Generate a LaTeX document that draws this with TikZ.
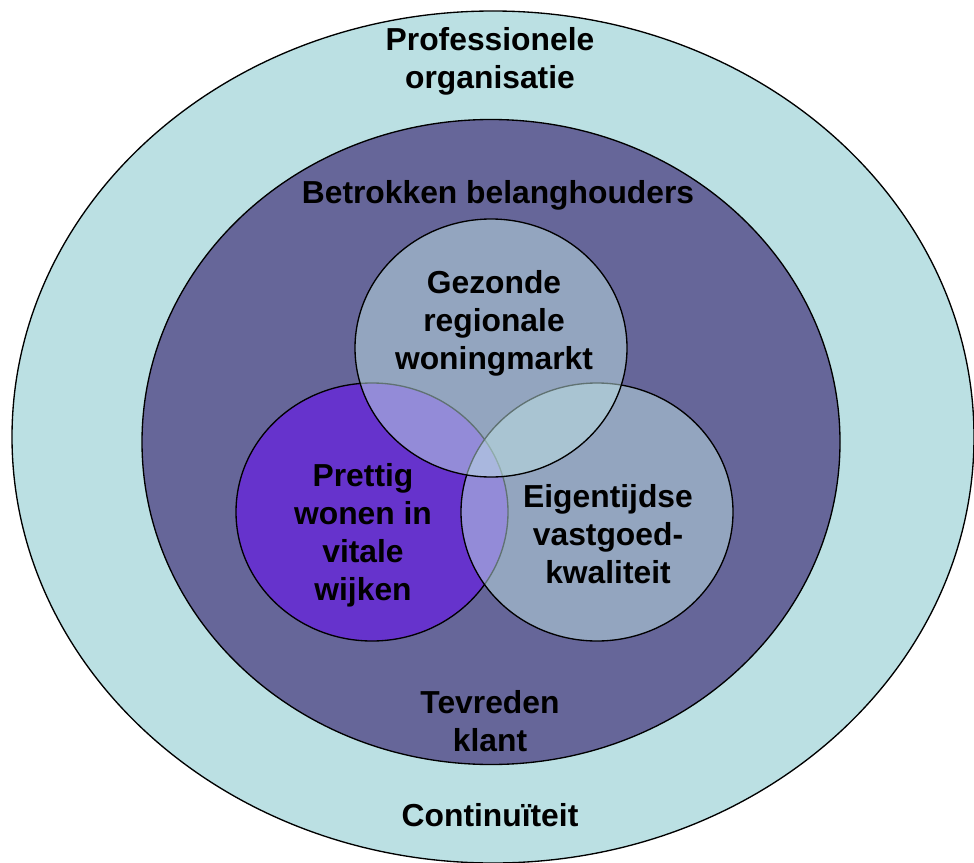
\documentclass[tikz,border=0pt]{standalone}
\usepackage{fontspec}
\setmainfont{Liberation Sans}
\definecolor{buitenring}{RGB}{187,224,227}
\definecolor{binnenring}{HTML}{666699}
\definecolor{wijkpaars}{HTML}{6633CC}
\definecolor{lichtkring}{RGB}{192,228,229}
\tikzset{
  ringtekst/.style={font=\fontsize{23.85}{28.6}\selectfont\bfseries, align=center, text=black},
  rand/.style={draw=black, line width=1pt}
}

\begin{document}
\begin{tikzpicture}[x=0.75pt,y=-0.75pt]
			%%%%% START %%%%%
			\useasboundingbox (0,0) rectangle (974,863);
			
			\draw[rand, fill=buitenring] (493,437) ellipse (481 and 426);
			\draw[rand, fill=binnenring] (491,442) ellipse (349 and 322.5);
			
			\draw[rand, fill=wijkpaars] (372,512) ellipse (136 and 129);
			\draw[rand, fill=lichtkring, fill opacity=0.5] (597,512) ellipse (136 and 129);
			\draw[rand, fill=lichtkring, fill opacity=0.5] (491,348) ellipse (136 and 129);
			
			\node[ringtekst] (organisatie) at (490,61) {Professionele\\organisatie};
			\node[ringtekst] (belanghouders) at (498,195) {Betrokken belanghouders};
			\node[ringtekst] (woningmarkt) at (494,323) {Gezonde\\regionale\\woningmarkt};
			\node[ringtekst] (wijken) at (363,535) {Prettig\\wonen in\\vitale\\wijken};
			\node[ringtekst] (vastgoed) at (608,534) {Eigentijdse\\vastgoed-\\kwaliteit};
			\node[ringtekst] (klant) at (490,721) {Tevreden\\klant};
			\node[ringtekst] (continuiteit) at (490,815) {Continuïteit};
			%%%%% END %%%%%
\end{tikzpicture}
\end{document}
